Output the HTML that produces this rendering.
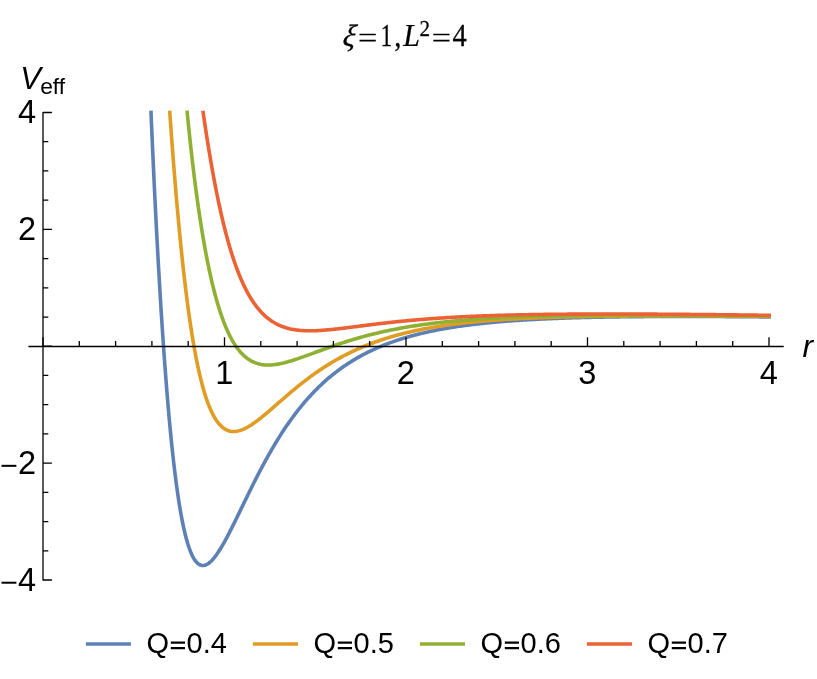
<!DOCTYPE html>
<html><head><meta charset="utf-8"><title>Veff plot</title>
<style>
html,body{margin:0;padding:0;background:#fff;}
body{width:817px;height:679px;overflow:hidden;}
svg{display:block;font-family:"Liberation Sans",sans-serif;}
</style></head><body>
<svg width="817" height="679" viewBox="0 0 817 679">
<rect width="817" height="679" fill="#fff"/>
<g fill="none" stroke-width="3.6" stroke-linejoin="round" stroke-linecap="square">
<path d="M151.01 112.49 L151.08 113.99 L151.14 115.49 L151.20 116.98 L151.27 118.48 L151.33 119.98 L151.39 121.48 L151.46 122.98 L151.52 124.47 L151.59 125.97 L151.65 127.47 L151.72 128.97 L151.78 130.47 L151.85 131.97 L151.91 133.46 L151.98 134.96 L152.04 136.46 L152.11 137.96 L152.18 139.46 L152.24 140.95 L152.31 142.45 L152.38 143.95 L152.44 145.45 L152.51 146.95 L152.58 148.44 L152.64 149.94 L152.71 151.44 L152.78 152.94 L152.85 154.43 L152.92 155.93 L152.98 157.43 L153.05 158.93 L153.12 160.43 L153.19 161.92 L153.26 163.42 L153.33 164.92 L153.40 166.42 L153.47 167.92 L153.54 169.41 L153.61 170.91 L153.68 172.41 L153.75 173.91 L153.82 175.40 L153.89 176.90 L153.96 178.40 L154.03 179.90 L154.10 181.40 L154.17 182.89 L154.24 184.39 L154.32 185.89 L154.39 187.39 L154.46 188.88 L154.53 190.38 L154.61 191.88 L154.68 193.38 L154.75 194.88 L154.83 196.37 L154.90 197.87 L154.97 199.37 L155.05 200.87 L155.12 202.36 L155.20 203.86 L155.27 205.36 L155.34 206.86 L155.42 208.35 L155.49 209.85 L155.57 211.35 L155.65 212.85 L155.72 214.34 L155.80 215.84 L155.87 217.34 L155.95 218.84 L156.03 220.33 L156.10 221.83 L156.18 223.33 L156.26 224.83 L156.34 226.32 L156.41 227.82 L156.49 229.32 L156.57 230.82 L156.65 232.31 L156.73 233.81 L156.81 235.31 L156.89 236.81 L156.97 238.30 L157.05 239.80 L157.13 241.30 L157.21 242.80 L157.29 244.29 L157.37 245.79 L157.45 247.29 L157.53 248.78 L157.61 250.28 L157.70 251.78 L157.78 253.28 L157.86 254.77 L157.94 256.27 L158.03 257.77 L158.11 259.26 L158.19 260.76 L158.28 262.26 L158.36 263.76 L158.44 265.25 L158.53 266.75 L158.61 268.25 L158.70 269.74 L158.79 271.24 L158.87 272.74 L158.96 274.24 L159.04 275.73 L159.13 277.23 L159.22 278.73 L159.30 280.22 L159.39 281.72 L159.48 283.22 L159.57 284.71 L159.66 286.21 L159.75 287.71 L159.84 289.20 L159.92 290.70 L160.01 292.20 L160.10 293.69 L160.20 295.19 L160.29 296.69 L160.38 298.18 L160.47 299.68 L160.56 301.18 L160.65 302.67 L160.75 304.17 L160.84 305.67 L160.93 307.16 L161.03 308.66 L161.12 310.16 L161.21 311.65 L161.31 313.15 L161.40 314.65 L161.50 316.14 L161.60 317.64 L161.69 319.14 L161.79 320.63 L161.89 322.13 L161.98 323.62 L162.08 325.12 L162.18 326.62 L162.28 328.11 L162.38 329.61 L162.48 331.11 L162.58 332.60 L162.68 334.10 L162.78 335.59 L162.88 337.09 L162.98 338.59 L163.08 340.08 L163.18 341.58 L163.29 343.07 L163.39 344.57 L163.49 346.07 L163.60 347.56 L163.70 349.06 L163.81 350.55 L163.92 352.05 L164.02 353.54 L164.13 355.04 L164.24 356.54 L164.34 358.03 L164.45 359.53 L164.56 361.02 L164.67 362.52 L164.78 364.01 L164.89 365.51 L165.00 367.00 L165.11 368.50 L165.23 369.99 L165.34 371.49 L165.45 372.99 L165.56 374.48 L165.68 375.98 L165.79 377.47 L165.91 378.97 L166.03 380.46 L166.14 381.96 L166.26 383.45 L166.38 384.94 L166.50 386.44 L166.62 387.93 L166.74 389.43 L166.86 390.92 L166.98 392.42 L167.10 393.91 L167.22 395.41 L167.35 396.90 L167.47 398.40 L167.60 399.89 L167.72 401.38 L167.85 402.88 L167.98 404.37 L168.10 405.87 L168.23 407.36 L168.36 408.85 L168.49 410.35 L168.62 411.84 L168.76 413.33 L168.89 414.83 L169.02 416.32 L169.16 417.82 L169.29 419.31 L169.43 420.80 L169.57 422.30 L169.71 423.79 L169.85 425.28 L169.99 426.77 L170.13 428.27 L170.27 429.76 L170.41 431.25 L170.56 432.74 L170.70 434.24 L170.85 435.73 L171.00 437.22 L171.15 438.71 L171.30 440.21 L171.45 441.70 L171.60 443.19 L171.75 444.68 L171.91 446.17 L172.06 447.66 L172.22 449.15 L172.38 450.65 L172.54 452.14 L172.70 453.63 L172.86 455.12 L173.03 456.61 L173.19 458.10 L173.36 459.59 L173.53 461.08 L173.70 462.57 L173.87 464.06 L174.05 465.55 L174.22 467.04 L174.40 468.53 L174.58 470.01 L174.76 471.50 L174.94 472.99 L175.12 474.48 L175.31 475.97 L175.50 477.45 L175.69 478.94 L175.88 480.43 L176.08 481.92 L176.27 483.40 L176.47 484.89 L176.67 486.37 L176.88 487.86 L177.08 489.35 L177.29 490.83 L177.50 492.31 L177.72 493.80 L177.93 495.28 L178.15 496.77 L178.38 498.25 L178.60 499.73 L178.83 501.21 L179.07 502.69 L179.30 504.17 L179.54 505.65 L179.79 507.13 L180.03 508.61 L180.28 510.09 L180.54 511.57 L180.80 513.05 L181.06 514.52 L181.33 516.00 L181.61 517.47 L181.89 518.94 L182.17 520.42 L182.46 521.89 L182.76 523.36 L183.06 524.83 L183.37 526.29 L183.69 527.76 L184.01 529.22 L184.35 530.68 L184.69 532.14 L185.04 533.60 L185.39 535.06 L185.76 536.51 L186.14 537.96 L186.53 539.41 L186.94 540.85 L187.35 542.29 L187.79 543.73 L188.23 545.16 L188.70 546.59 L189.18 548.01 L189.69 549.42 L190.22 550.82 L190.78 552.21 L191.36 553.59 L191.99 554.96 L192.64 556.30 L193.35 557.63 L194.11 558.92 L194.93 560.17 L195.82 561.38 L196.81 562.51 L197.90 563.53 L199.12 564.41 L200.46 565.08 L201.90 565.46 L203.40 565.52 L204.87 565.26 L206.28 564.74 L207.60 564.03 L208.84 563.19 L210.00 562.25 L211.11 561.23 L212.16 560.16 L213.16 559.04 L214.12 557.90 L215.05 556.72 L215.95 555.52 L216.83 554.30 L217.68 553.07 L218.51 551.82 L219.32 550.56 L220.12 549.29 L220.90 548.01 L221.67 546.73 L222.43 545.43 L223.18 544.13 L223.92 542.83 L224.65 541.52 L225.37 540.21 L226.09 538.89 L226.80 537.57 L227.50 536.24 L228.20 534.91 L228.89 533.58 L229.57 532.25 L230.26 530.91 L230.94 529.58 L231.61 528.24 L232.28 526.90 L232.95 525.56 L233.62 524.21 L234.29 522.87 L234.95 521.53 L235.61 520.18 L236.27 518.83 L236.93 517.49 L237.58 516.14 L238.24 514.79 L238.89 513.44 L239.55 512.09 L240.20 510.74 L240.86 509.39 L241.51 508.04 L242.16 506.69 L242.82 505.34 L243.47 503.99 L244.12 502.64 L244.78 501.30 L245.43 499.95 L246.09 498.60 L246.75 497.25 L247.40 495.90 L248.06 494.56 L248.72 493.21 L249.39 491.86 L250.05 490.52 L250.71 489.17 L251.38 487.83 L252.05 486.49 L252.72 485.15 L253.39 483.81 L254.06 482.47 L254.74 481.13 L255.41 479.79 L256.09 478.45 L256.78 477.12 L257.46 475.78 L258.15 474.45 L258.84 473.12 L259.53 471.79 L260.23 470.46 L260.92 469.14 L261.62 467.81 L262.33 466.49 L263.04 465.16 L263.75 463.84 L264.46 462.52 L265.18 461.21 L265.90 459.89 L266.62 458.58 L267.35 457.27 L268.08 455.96 L268.82 454.65 L269.56 453.35 L270.30 452.05 L271.05 450.75 L271.80 449.45 L272.56 448.15 L273.32 446.86 L274.08 445.57 L274.85 444.28 L275.62 443.00 L276.40 441.72 L277.18 440.44 L277.97 439.16 L278.76 437.89 L279.56 436.62 L280.36 435.35 L281.17 434.09 L281.98 432.83 L282.80 431.57 L283.62 430.32 L284.45 429.07 L285.29 427.82 L286.12 426.58 L286.97 425.34 L287.82 424.11 L288.68 422.88 L289.54 421.65 L290.41 420.43 L291.28 419.21 L292.17 418.00 L293.05 416.79 L293.95 415.58 L294.85 414.39 L295.75 413.19 L296.67 412.00 L297.58 410.82 L298.51 409.64 L299.44 408.46 L300.38 407.29 L301.33 406.13 L302.28 404.97 L303.24 403.82 L304.21 402.68 L305.18 401.54 L306.16 400.40 L307.15 399.27 L308.15 398.15 L309.15 397.04 L310.16 395.93 L311.18 394.83 L312.20 393.73 L313.24 392.65 L314.27 391.57 L315.32 390.49 L316.38 389.43 L317.44 388.37 L318.51 387.32 L319.58 386.27 L320.67 385.24 L321.76 384.21 L322.86 383.19 L323.97 382.18 L325.08 381.18 L326.21 380.18 L327.33 379.20 L328.47 378.22 L329.62 377.25 L330.77 376.29 L331.93 375.34 L333.09 374.40 L334.27 373.47 L335.45 372.54 L336.64 371.63 L337.83 370.72 L339.04 369.83 L340.25 368.94 L341.46 368.07 L342.69 367.20 L343.92 366.34 L345.16 365.50 L346.40 364.66 L347.65 363.83 L348.91 363.01 L350.17 362.21 L351.44 361.41 L352.72 360.62 L354.00 359.85 L355.29 359.08 L356.58 358.32 L357.88 357.57 L359.19 356.84 L360.50 356.11 L361.82 355.39 L363.14 354.69 L364.47 353.99 L365.80 353.30 L367.14 352.63 L368.48 351.96 L369.83 351.30 L371.18 350.65 L372.54 350.02 L373.90 349.39 L375.27 348.77 L376.64 348.16 L378.01 347.56 L379.39 346.97 L380.77 346.39 L382.16 345.82 L383.55 345.26 L384.94 344.71 L386.34 344.17 L387.74 343.63 L389.15 343.11 L390.55 342.59 L391.96 342.08 L393.38 341.58 L394.80 341.09 L396.22 340.61 L397.64 340.13 L399.06 339.67 L400.49 339.21 L401.92 338.76 L403.35 338.32 L404.79 337.88 L406.23 337.46 L407.67 337.04 L409.11 336.63 L410.55 336.22 L412.00 335.83 L413.45 335.44 L414.90 335.05 L416.35 334.68 L417.80 334.31 L419.26 333.95 L420.71 333.59 L422.17 333.24 L423.63 332.90 L425.09 332.56 L426.55 332.23 L428.02 331.91 L429.48 331.59 L430.95 331.28 L432.42 330.97 L433.89 330.67 L435.36 330.37 L436.83 330.08 L438.30 329.80 L439.77 329.52 L441.25 329.25 L442.72 328.98 L444.20 328.72 L445.68 328.46 L447.15 328.20 L448.63 327.95 L450.11 327.71 L451.59 327.47 L453.07 327.24 L454.56 327.00 L456.04 326.78 L457.52 326.56 L459.00 326.34 L460.49 326.12 L461.97 325.91 L463.46 325.71 L464.94 325.51 L466.43 325.31 L467.92 325.12 L469.40 324.92 L470.89 324.74 L472.38 324.55 L473.87 324.38 L475.36 324.20 L476.85 324.03 L478.34 323.86 L479.83 323.69 L481.32 323.53 L482.81 323.37 L484.30 323.21 L485.79 323.06 L487.28 322.90 L488.78 322.76 L490.27 322.61 L491.76 322.47 L493.25 322.33 L494.75 322.19 L496.24 322.06 L497.73 321.93 L499.23 321.80 L500.72 321.67 L502.22 321.55 L503.71 321.42 L505.21 321.31 L506.70 321.19 L508.20 321.07 L509.69 320.96 L511.19 320.85 L512.68 320.74 L514.18 320.64 L515.67 320.53 L517.17 320.43 L518.67 320.33 L520.16 320.23 L521.66 320.14 L523.15 320.04 L524.65 319.95 L526.15 319.86 L527.64 319.77 L529.14 319.69 L530.64 319.60 L532.14 319.52 L533.63 319.44 L535.13 319.36 L536.63 319.28 L538.13 319.20 L539.62 319.13 L541.12 319.05 L542.62 318.98 L544.12 318.91 L545.61 318.84 L547.11 318.77 L548.61 318.71 L550.11 318.64 L551.61 318.58 L553.10 318.52 L554.60 318.46 L556.10 318.40 L557.60 318.34 L559.10 318.28 L560.60 318.23 L562.09 318.17 L563.59 318.12 L565.09 318.07 L566.59 318.02 L568.09 317.97 L569.59 317.92 L571.09 317.87 L572.58 317.82 L574.08 317.78 L575.58 317.73 L577.08 317.69 L578.58 317.65 L580.08 317.61 L581.58 317.56 L583.08 317.53 L584.58 317.49 L586.07 317.45 L587.57 317.41 L589.07 317.38 L590.57 317.34 L592.07 317.31 L593.57 317.27 L595.07 317.24 L596.57 317.21 L598.07 317.18 L599.57 317.15 L601.07 317.12 L602.57 317.09 L604.06 317.07 L605.56 317.04 L607.06 317.01 L608.56 316.99 L610.06 316.96 L611.56 316.94 L613.06 316.92 L614.56 316.89 L616.06 316.87 L617.56 316.85 L619.06 316.83 L620.56 316.81 L622.06 316.79 L623.56 316.77 L625.05 316.75 L626.55 316.74 L628.05 316.72 L629.55 316.70 L631.05 316.69 L632.55 316.67 L634.05 316.66 L635.55 316.64 L637.05 316.63 L638.55 316.62 L640.05 316.61 L641.55 316.59 L643.05 316.58 L644.55 316.57 L646.05 316.56 L647.55 316.55 L649.04 316.54 L650.54 316.53 L652.04 316.52 L653.54 316.52 L655.04 316.51 L656.54 316.50 L658.04 316.50 L659.54 316.49 L661.04 316.48 L662.54 316.48 L664.04 316.47 L665.54 316.47 L667.04 316.47 L668.54 316.46 L670.04 316.46 L671.54 316.46 L673.04 316.45 L674.54 316.45 L676.03 316.45 L677.53 316.45 L679.03 316.45 L680.53 316.45 L682.03 316.45 L683.53 316.45 L685.03 316.45 L686.53 316.45 L688.03 316.45 L689.53 316.45 L691.03 316.45 L692.53 316.46 L694.03 316.46 L695.53 316.46 L697.03 316.46 L698.53 316.47 L700.03 316.47 L701.53 316.47 L703.03 316.48 L704.52 316.48 L706.02 316.49 L707.52 316.49 L709.02 316.50 L710.52 316.51 L712.02 316.51 L713.52 316.52 L715.02 316.52 L716.52 316.53 L718.02 316.54 L719.52 316.55 L721.02 316.55 L722.52 316.56 L724.02 316.57 L725.52 316.58 L727.02 316.59 L728.52 316.59 L730.02 316.60 L731.51 316.61 L733.01 316.62 L734.51 316.63 L736.01 316.64 L737.51 316.65 L739.01 316.66 L740.51 316.67 L742.01 316.68 L743.51 316.69 L745.01 316.71 L746.51 316.72 L748.01 316.73 L749.51 316.74 L751.01 316.75 L752.51 316.76 L754.01 316.78 L755.51 316.79 L757.00 316.80 L758.50 316.81 L760.00 316.83 L761.50 316.84 L763.00 316.85 L764.50 316.87 L766.00 316.88 L767.50 316.90 L769.00 316.91" stroke="#5E81B5"/>
<path d="M169.80 112.49 L169.90 113.99 L170.01 115.48 L170.11 116.98 L170.22 118.47 L170.32 119.97 L170.43 121.47 L170.54 122.96 L170.65 124.46 L170.75 125.95 L170.86 127.45 L170.97 128.95 L171.08 130.44 L171.19 131.94 L171.30 133.43 L171.41 134.93 L171.52 136.42 L171.63 137.92 L171.74 139.42 L171.85 140.91 L171.96 142.41 L172.07 143.90 L172.18 145.40 L172.30 146.89 L172.41 148.39 L172.52 149.88 L172.64 151.38 L172.75 152.87 L172.87 154.37 L172.98 155.86 L173.10 157.36 L173.21 158.86 L173.33 160.35 L173.45 161.85 L173.56 163.34 L173.68 164.84 L173.80 166.33 L173.92 167.83 L174.04 169.32 L174.16 170.82 L174.28 172.31 L174.40 173.81 L174.52 175.30 L174.64 176.80 L174.76 178.29 L174.88 179.78 L175.01 181.28 L175.13 182.77 L175.25 184.27 L175.38 185.76 L175.50 187.26 L175.63 188.75 L175.75 190.25 L175.88 191.74 L176.01 193.24 L176.13 194.73 L176.26 196.22 L176.39 197.72 L176.52 199.21 L176.65 200.71 L176.78 202.20 L176.91 203.69 L177.04 205.19 L177.18 206.68 L177.31 208.18 L177.44 209.67 L177.58 211.16 L177.71 212.66 L177.85 214.15 L177.98 215.64 L178.12 217.14 L178.26 218.63 L178.39 220.12 L178.53 221.62 L178.67 223.11 L178.81 224.60 L178.95 226.10 L179.09 227.59 L179.23 229.08 L179.38 230.58 L179.52 232.07 L179.67 233.56 L179.81 235.05 L179.96 236.55 L180.10 238.04 L180.25 239.53 L180.40 241.02 L180.55 242.52 L180.70 244.01 L180.85 245.50 L181.00 246.99 L181.15 248.49 L181.30 249.98 L181.46 251.47 L181.61 252.96 L181.77 254.45 L181.93 255.94 L182.08 257.44 L182.24 258.93 L182.40 260.42 L182.56 261.91 L182.72 263.40 L182.89 264.89 L183.05 266.38 L183.21 267.87 L183.38 269.36 L183.55 270.85 L183.72 272.34 L183.88 273.83 L184.05 275.32 L184.23 276.81 L184.40 278.30 L184.57 279.79 L184.75 281.28 L184.92 282.77 L185.10 284.26 L185.28 285.75 L185.46 287.24 L185.64 288.73 L185.82 290.22 L186.00 291.70 L186.19 293.19 L186.38 294.68 L186.56 296.17 L186.75 297.66 L186.94 299.14 L187.14 300.63 L187.33 302.12 L187.52 303.61 L187.72 305.09 L187.92 306.58 L188.12 308.06 L188.32 309.55 L188.53 311.04 L188.73 312.52 L188.94 314.01 L189.15 315.49 L189.36 316.98 L189.57 318.46 L189.79 319.95 L190.00 321.43 L190.22 322.91 L190.44 324.40 L190.67 325.88 L190.89 327.36 L191.12 328.85 L191.35 330.33 L191.58 331.81 L191.81 333.29 L192.05 334.77 L192.29 336.25 L192.53 337.73 L192.78 339.21 L193.02 340.69 L193.27 342.17 L193.53 343.65 L193.78 345.13 L194.04 346.60 L194.30 348.08 L194.57 349.56 L194.84 351.03 L195.11 352.51 L195.38 353.98 L195.66 355.45 L195.94 356.93 L196.23 358.40 L196.52 359.87 L196.82 361.34 L197.11 362.81 L197.42 364.28 L197.72 365.75 L198.03 367.21 L198.35 368.68 L198.67 370.15 L199.00 371.61 L199.33 373.07 L199.67 374.53 L200.01 375.99 L200.36 377.45 L200.72 378.91 L201.08 380.36 L201.45 381.82 L201.82 383.27 L202.20 384.72 L202.59 386.17 L202.99 387.61 L203.40 389.06 L203.81 390.50 L204.24 391.94 L204.67 393.37 L205.12 394.80 L205.57 396.23 L206.04 397.66 L206.52 399.08 L207.01 400.50 L207.51 401.91 L208.03 403.32 L208.56 404.72 L209.11 406.11 L209.68 407.50 L210.27 408.88 L210.87 410.25 L211.50 411.62 L212.15 412.97 L212.82 414.31 L213.53 415.63 L214.26 416.94 L215.02 418.23 L215.82 419.50 L216.65 420.75 L217.52 421.97 L218.44 423.15 L219.41 424.30 L220.43 425.40 L221.51 426.44 L222.64 427.42 L223.84 428.33 L225.10 429.14 L226.42 429.85 L227.79 430.45 L229.22 430.92 L230.68 431.25 L232.16 431.45 L233.66 431.52 L235.16 431.46 L236.65 431.28 L238.12 431.00 L239.57 430.63 L241.00 430.17 L242.41 429.65 L243.79 429.07 L245.15 428.43 L246.48 427.75 L247.80 427.03 L249.10 426.27 L250.37 425.49 L251.63 424.68 L252.88 423.85 L254.11 422.99 L255.33 422.12 L256.54 421.23 L257.74 420.33 L258.93 419.42 L260.11 418.49 L261.29 417.56 L262.45 416.62 L263.61 415.67 L264.77 414.71 L265.92 413.75 L267.06 412.78 L268.21 411.81 L269.35 410.83 L270.48 409.85 L271.62 408.87 L272.75 407.89 L273.88 406.91 L275.01 405.92 L276.14 404.93 L277.27 403.95 L278.40 402.96 L279.53 401.97 L280.66 400.99 L281.79 400.00 L282.92 399.02 L284.06 398.04 L285.19 397.06 L286.33 396.08 L287.47 395.10 L288.61 394.13 L289.75 393.16 L290.90 392.19 L292.05 391.23 L293.20 390.27 L294.35 389.31 L295.51 388.36 L296.67 387.41 L297.83 386.46 L299.00 385.52 L300.17 384.58 L301.35 383.65 L302.53 382.72 L303.71 381.80 L304.90 380.89 L306.09 379.97 L307.28 379.07 L308.48 378.17 L309.69 377.27 L310.89 376.38 L312.11 375.50 L313.32 374.63 L314.54 373.75 L315.77 372.89 L317.00 372.03 L318.24 371.18 L319.48 370.34 L320.72 369.50 L321.97 368.67 L323.22 367.85 L324.48 367.03 L325.74 366.23 L327.01 365.43 L328.29 364.63 L329.56 363.85 L330.84 363.07 L332.13 362.30 L333.42 361.53 L334.72 360.78 L336.02 360.03 L337.32 359.29 L338.63 358.56 L339.95 357.84 L341.27 357.12 L342.59 356.42 L343.92 355.72 L345.25 355.03 L346.58 354.35 L347.92 353.67 L349.27 353.01 L350.61 352.35 L351.97 351.70 L353.32 351.06 L354.68 350.43 L356.05 349.81 L357.41 349.19 L358.79 348.58 L360.16 347.98 L361.54 347.39 L362.92 346.81 L364.31 346.24 L365.69 345.67 L367.09 345.11 L368.48 344.56 L369.88 344.02 L371.28 343.49 L372.69 342.96 L374.09 342.44 L375.50 341.93 L376.92 341.43 L378.33 340.94 L379.75 340.45 L381.17 339.97 L382.60 339.50 L384.02 339.04 L385.45 338.58 L386.88 338.13 L388.32 337.69 L389.75 337.26 L391.19 336.83 L392.63 336.41 L394.07 336.00 L395.52 335.59 L396.96 335.19 L398.41 334.80 L399.86 334.42 L401.31 334.04 L402.76 333.67 L404.22 333.30 L405.67 332.94 L407.13 332.59 L408.59 332.24 L410.05 331.90 L411.51 331.57 L412.97 331.24 L414.44 330.92 L415.91 330.60 L417.37 330.29 L418.84 329.98 L420.31 329.68 L421.78 329.39 L423.25 329.10 L424.73 328.82 L426.20 328.54 L427.67 328.26 L429.15 328.00 L430.63 327.73 L432.10 327.48 L433.58 327.22 L435.06 326.97 L436.54 326.73 L438.02 326.49 L439.50 326.26 L440.98 326.03 L442.47 325.80 L443.95 325.58 L445.43 325.36 L446.92 325.15 L448.40 324.94 L449.89 324.74 L451.38 324.54 L452.86 324.34 L454.35 324.15 L455.84 323.96 L457.32 323.77 L458.81 323.59 L460.30 323.41 L461.79 323.24 L463.28 323.07 L464.77 322.90 L466.26 322.73 L467.75 322.57 L469.25 322.41 L470.74 322.26 L472.23 322.11 L473.72 321.96 L475.21 321.81 L476.71 321.67 L478.20 321.53 L479.69 321.39 L481.19 321.26 L482.68 321.13 L484.18 321.00 L485.67 320.87 L487.16 320.75 L488.66 320.63 L490.15 320.51 L491.65 320.40 L493.15 320.28 L494.64 320.17 L496.14 320.06 L497.63 319.96 L499.13 319.85 L500.62 319.75 L502.12 319.65 L503.62 319.55 L505.11 319.46 L506.61 319.36 L508.11 319.27 L509.60 319.18 L511.10 319.09 L512.60 319.01 L514.10 318.92 L515.59 318.84 L517.09 318.76 L518.59 318.68 L520.09 318.60 L521.58 318.53 L523.08 318.45 L524.58 318.38 L526.08 318.31 L527.58 318.24 L529.08 318.18 L530.57 318.11 L532.07 318.05 L533.57 317.98 L535.07 317.92 L536.57 317.86 L538.07 317.80 L539.56 317.75 L541.06 317.69 L542.56 317.64 L544.06 317.58 L545.56 317.53 L547.06 317.48 L548.56 317.43 L550.06 317.38 L551.56 317.34 L553.05 317.29 L554.55 317.24 L556.05 317.20 L557.55 317.16 L559.05 317.12 L560.55 317.08 L562.05 317.04 L563.55 317.00 L565.05 316.96 L566.55 316.92 L568.05 316.89 L569.55 316.85 L571.04 316.82 L572.54 316.79 L574.04 316.75 L575.54 316.72 L577.04 316.69 L578.54 316.66 L580.04 316.63 L581.54 316.61 L583.04 316.58 L584.54 316.55 L586.04 316.53 L587.54 316.50 L589.04 316.48 L590.54 316.45 L592.04 316.43 L593.54 316.41 L595.04 316.39 L596.54 316.37 L598.04 316.35 L599.53 316.33 L601.03 316.31 L602.53 316.29 L604.03 316.27 L605.53 316.26 L607.03 316.24 L608.53 316.23 L610.03 316.21 L611.53 316.20 L613.03 316.18 L614.53 316.17 L616.03 316.15 L617.53 316.14 L619.03 316.13 L620.53 316.12 L622.03 316.11 L623.53 316.10 L625.03 316.09 L626.53 316.08 L628.03 316.07 L629.53 316.06 L631.03 316.05 L632.53 316.04 L634.03 316.04 L635.53 316.03 L637.03 316.02 L638.53 316.02 L640.03 316.01 L641.53 316.00 L643.03 316.00 L644.52 315.99 L646.02 315.99 L647.52 315.99 L649.02 315.98 L650.52 315.98 L652.02 315.98 L653.52 315.97 L655.02 315.97 L656.52 315.97 L658.02 315.97 L659.52 315.96 L661.02 315.96 L662.52 315.96 L664.02 315.96 L665.52 315.96 L667.02 315.96 L668.52 315.96 L670.02 315.96 L671.52 315.96 L673.02 315.96 L674.52 315.96 L676.02 315.97 L677.52 315.97 L679.02 315.97 L680.52 315.97 L682.02 315.97 L683.52 315.98 L685.02 315.98 L686.52 315.98 L688.02 315.98 L689.52 315.99 L691.02 315.99 L692.52 316.00 L694.02 316.00 L695.51 316.00 L697.01 316.01 L698.51 316.01 L700.01 316.02 L701.51 316.02 L703.01 316.03 L704.51 316.03 L706.01 316.04 L707.51 316.04 L709.01 316.05 L710.51 316.05 L712.01 316.06 L713.51 316.07 L715.01 316.07 L716.51 316.08 L718.01 316.09 L719.51 316.09 L721.01 316.10 L722.51 316.11 L724.01 316.11 L725.51 316.12 L727.01 316.13 L728.51 316.14 L730.01 316.14 L731.51 316.15 L733.01 316.16 L734.51 316.17 L736.01 316.17 L737.51 316.18 L739.01 316.19 L740.51 316.20 L742.01 316.21 L743.51 316.22 L745.01 316.22 L746.50 316.23 L748.00 316.24 L749.50 316.25 L751.00 316.26 L752.50 316.27 L754.00 316.28 L755.50 316.29 L757.00 316.30 L758.50 316.31 L760.00 316.31 L761.50 316.32 L763.00 316.33 L764.50 316.34 L766.00 316.35 L767.50 316.36 L769.00 316.37" stroke="#E19C24"/>
<path d="M187.22 112.49 L187.36 113.98 L187.51 115.47 L187.66 116.96 L187.80 118.45 L187.95 119.94 L188.10 121.43 L188.25 122.92 L188.40 124.41 L188.55 125.90 L188.70 127.39 L188.86 128.88 L189.01 130.37 L189.16 131.86 L189.32 133.35 L189.48 134.84 L189.63 136.33 L189.79 137.82 L189.95 139.31 L190.11 140.80 L190.27 142.29 L190.43 143.77 L190.60 145.26 L190.76 146.75 L190.92 148.24 L191.09 149.73 L191.26 151.22 L191.42 152.70 L191.59 154.19 L191.76 155.68 L191.93 157.17 L192.10 158.66 L192.28 160.14 L192.45 161.63 L192.62 163.12 L192.80 164.61 L192.98 166.09 L193.15 167.58 L193.33 169.07 L193.51 170.55 L193.69 172.04 L193.88 173.53 L194.06 175.01 L194.24 176.50 L194.43 177.99 L194.62 179.47 L194.80 180.96 L194.99 182.44 L195.18 183.93 L195.38 185.41 L195.57 186.90 L195.76 188.38 L195.96 189.87 L196.16 191.35 L196.35 192.84 L196.55 194.32 L196.76 195.80 L196.96 197.29 L197.16 198.77 L197.37 200.26 L197.57 201.74 L197.78 203.22 L197.99 204.70 L198.20 206.19 L198.42 207.67 L198.63 209.15 L198.85 210.63 L199.06 212.12 L199.28 213.60 L199.51 215.08 L199.73 216.56 L199.95 218.04 L200.18 219.52 L200.41 221.00 L200.64 222.48 L200.87 223.96 L201.10 225.44 L201.34 226.92 L201.57 228.40 L201.81 229.87 L202.05 231.35 L202.30 232.83 L202.54 234.31 L202.79 235.78 L203.04 237.26 L203.29 238.74 L203.55 240.21 L203.80 241.69 L204.06 243.16 L204.32 244.64 L204.58 246.11 L204.85 247.59 L205.12 249.06 L205.39 250.53 L205.66 252.01 L205.94 253.48 L206.22 254.95 L206.50 256.42 L206.78 257.89 L207.07 259.36 L207.36 260.83 L207.65 262.30 L207.95 263.77 L208.25 265.23 L208.55 266.70 L208.86 268.16 L209.17 269.63 L209.48 271.09 L209.80 272.56 L210.12 274.02 L210.44 275.48 L210.77 276.94 L211.10 278.41 L211.44 279.86 L211.78 281.32 L212.12 282.78 L212.47 284.24 L212.82 285.69 L213.18 287.15 L213.54 288.60 L213.91 290.05 L214.28 291.50 L214.66 292.95 L215.04 294.40 L215.43 295.85 L215.82 297.29 L216.22 298.73 L216.63 300.18 L217.04 301.62 L217.46 303.05 L217.89 304.49 L218.32 305.92 L218.76 307.35 L219.20 308.78 L219.66 310.21 L220.12 311.64 L220.59 313.06 L221.07 314.48 L221.56 315.89 L222.05 317.30 L222.56 318.71 L223.08 320.12 L223.60 321.52 L224.14 322.92 L224.69 324.31 L225.25 325.70 L225.82 327.08 L226.41 328.46 L227.01 329.84 L227.62 331.20 L228.25 332.56 L228.89 333.91 L229.55 335.26 L230.23 336.59 L230.93 337.92 L231.64 339.24 L232.37 340.54 L233.13 341.84 L233.90 343.12 L234.70 344.38 L235.52 345.64 L236.37 346.87 L237.25 348.09 L238.15 349.28 L239.08 350.45 L240.04 351.60 L241.03 352.72 L242.06 353.81 L243.12 354.87 L244.21 355.89 L245.34 356.88 L246.51 357.82 L247.71 358.71 L248.95 359.55 L250.22 360.34 L251.53 361.08 L252.86 361.75 L254.23 362.36 L255.62 362.91 L257.04 363.39 L258.48 363.81 L259.94 364.16 L261.41 364.45 L262.89 364.67 L264.37 364.84 L265.87 364.95 L267.36 365.00 L268.86 365.00 L270.36 364.96 L271.85 364.87 L273.35 364.74 L274.83 364.57 L276.32 364.36 L277.80 364.12 L279.27 363.86 L280.74 363.56 L282.20 363.25 L283.66 362.90 L285.11 362.54 L286.56 362.16 L288.00 361.77 L289.44 361.35 L290.88 360.93 L292.31 360.49 L293.74 360.04 L295.17 359.58 L296.59 359.11 L298.01 358.63 L299.42 358.15 L300.84 357.66 L302.25 357.16 L303.66 356.66 L305.07 356.16 L306.48 355.65 L307.89 355.14 L309.30 354.63 L310.70 354.11 L312.11 353.60 L313.52 353.08 L314.92 352.56 L316.33 352.05 L317.73 351.53 L319.14 351.02 L320.55 350.50 L321.95 349.99 L323.36 349.48 L324.77 348.97 L326.18 348.46 L327.59 347.96 L329.00 347.46 L330.41 346.96 L331.82 346.46 L333.24 345.97 L334.65 345.48 L336.07 345.00 L337.49 344.51 L338.91 344.04 L340.33 343.56 L341.75 343.10 L343.18 342.63 L344.60 342.17 L346.03 341.71 L347.46 341.26 L348.89 340.82 L350.32 340.38 L351.75 339.94 L353.18 339.51 L354.62 339.08 L356.05 338.66 L357.49 338.24 L358.93 337.83 L360.37 337.42 L361.82 337.02 L363.26 336.62 L364.71 336.23 L366.15 335.85 L367.60 335.46 L369.05 335.09 L370.50 334.72 L371.95 334.35 L373.41 333.99 L374.86 333.64 L376.32 333.28 L377.78 332.94 L379.23 332.60 L380.69 332.26 L382.15 331.93 L383.62 331.61 L385.08 331.29 L386.54 330.97 L388.01 330.66 L389.47 330.36 L390.94 330.06 L392.41 329.76 L393.88 329.47 L395.35 329.18 L396.82 328.90 L398.29 328.62 L399.76 328.35 L401.24 328.08 L402.71 327.82 L404.19 327.56 L405.66 327.30 L407.14 327.05 L408.61 326.81 L410.09 326.56 L411.57 326.33 L413.05 326.09 L414.53 325.86 L416.01 325.64 L417.49 325.42 L418.97 325.20 L420.46 324.98 L421.94 324.77 L423.42 324.57 L424.91 324.36 L426.39 324.16 L427.87 323.97 L429.36 323.78 L430.84 323.59 L432.33 323.40 L433.82 323.22 L435.30 323.04 L436.79 322.87 L438.28 322.70 L439.77 322.53 L441.26 322.36 L442.74 322.20 L444.23 322.04 L445.72 321.88 L447.21 321.73 L448.70 321.58 L450.19 321.43 L451.68 321.29 L453.17 321.14 L454.67 321.00 L456.16 320.87 L457.65 320.73 L459.14 320.60 L460.63 320.47 L462.12 320.35 L463.62 320.22 L465.11 320.10 L466.60 319.98 L468.09 319.86 L469.59 319.75 L471.08 319.64 L472.57 319.53 L474.07 319.42 L475.56 319.31 L477.06 319.21 L478.55 319.11 L480.04 319.01 L481.54 318.91 L483.03 318.82 L484.53 318.72 L486.02 318.63 L487.52 318.54 L489.01 318.45 L490.51 318.37 L492.00 318.28 L493.50 318.20 L494.99 318.12 L496.49 318.04 L497.98 317.96 L499.48 317.88 L500.98 317.81 L502.47 317.74 L503.97 317.67 L505.46 317.60 L506.96 317.53 L508.46 317.46 L509.95 317.40 L511.45 317.33 L512.94 317.27 L514.44 317.21 L515.94 317.15 L517.43 317.09 L518.93 317.03 L520.43 316.98 L521.92 316.92 L523.42 316.87 L524.92 316.82 L526.41 316.76 L527.91 316.71 L529.41 316.67 L530.90 316.62 L532.40 316.57 L533.90 316.53 L535.39 316.48 L536.89 316.44 L538.39 316.40 L539.89 316.35 L541.38 316.31 L542.88 316.28 L544.38 316.24 L545.87 316.20 L547.37 316.16 L548.87 316.13 L550.36 316.09 L551.86 316.06 L553.36 316.03 L554.86 315.99 L556.35 315.96 L557.85 315.93 L559.35 315.90 L560.85 315.87 L562.34 315.85 L563.84 315.82 L565.34 315.79 L566.83 315.77 L568.33 315.74 L569.83 315.72 L571.33 315.69 L572.82 315.67 L574.32 315.65 L575.82 315.63 L577.32 315.61 L578.81 315.59 L580.31 315.57 L581.81 315.55 L583.31 315.53 L584.80 315.51 L586.30 315.50 L587.80 315.48 L589.30 315.46 L590.79 315.45 L592.29 315.44 L593.79 315.42 L595.29 315.41 L596.78 315.39 L598.28 315.38 L599.78 315.37 L601.28 315.36 L602.77 315.35 L604.27 315.34 L605.77 315.33 L607.27 315.32 L608.76 315.31 L610.26 315.30 L611.76 315.29 L613.26 315.29 L614.75 315.28 L616.25 315.27 L617.75 315.27 L619.25 315.26 L620.74 315.25 L622.24 315.25 L623.74 315.25 L625.24 315.24 L626.73 315.24 L628.23 315.23 L629.73 315.23 L631.23 315.23 L632.72 315.23 L634.22 315.22 L635.72 315.22 L637.22 315.22 L638.72 315.22 L640.21 315.22 L641.71 315.22 L643.21 315.22 L644.71 315.22 L646.20 315.22 L647.70 315.22 L649.20 315.23 L650.70 315.23 L652.19 315.23 L653.69 315.23 L655.19 315.23 L656.69 315.24 L658.18 315.24 L659.68 315.25 L661.18 315.25 L662.68 315.25 L664.17 315.26 L665.67 315.26 L667.17 315.27 L668.67 315.27 L670.16 315.28 L671.66 315.28 L673.16 315.29 L674.66 315.30 L676.15 315.30 L677.65 315.31 L679.15 315.32 L680.65 315.32 L682.14 315.33 L683.64 315.34 L685.14 315.35 L686.64 315.36 L688.13 315.37 L689.63 315.37 L691.13 315.38 L692.63 315.39 L694.12 315.40 L695.62 315.41 L697.12 315.42 L698.62 315.43 L700.11 315.44 L701.61 315.45 L703.11 315.46 L704.61 315.47 L706.11 315.48 L707.60 315.49 L709.10 315.51 L710.60 315.52 L712.10 315.53 L713.59 315.54 L715.09 315.55 L716.59 315.57 L718.09 315.58 L719.58 315.59 L721.08 315.60 L722.58 315.62 L724.08 315.63 L725.57 315.64 L727.07 315.66 L728.57 315.67 L730.07 315.68 L731.56 315.70 L733.06 315.71 L734.56 315.72 L736.06 315.74 L737.55 315.75 L739.05 315.77 L740.55 315.78 L742.05 315.80 L743.54 315.81 L745.04 315.83 L746.54 315.84 L748.04 315.86 L749.53 315.87 L751.03 315.89 L752.53 315.91 L754.03 315.92 L755.52 315.94 L757.02 315.95 L758.52 315.97 L760.02 315.99 L761.51 316.00 L763.01 316.02 L764.51 316.04 L766.01 316.05 L767.50 316.07 L769.00 316.09" stroke="#8FB032"/>
<path d="M203.16 112.49 L203.38 113.97 L203.59 115.46 L203.81 116.94 L204.03 118.42 L204.24 119.91 L204.46 121.39 L204.68 122.87 L204.90 124.35 L205.13 125.83 L205.35 127.32 L205.57 128.80 L205.80 130.28 L206.03 131.76 L206.25 133.24 L206.48 134.72 L206.71 136.20 L206.94 137.69 L207.18 139.17 L207.41 140.65 L207.65 142.13 L207.88 143.61 L208.12 145.09 L208.36 146.57 L208.60 148.04 L208.84 149.52 L209.08 151.00 L209.33 152.48 L209.58 153.96 L209.82 155.44 L210.07 156.92 L210.32 158.39 L210.57 159.87 L210.83 161.35 L211.08 162.82 L211.34 164.30 L211.60 165.78 L211.86 167.25 L212.12 168.73 L212.38 170.20 L212.65 171.68 L212.92 173.15 L213.18 174.63 L213.46 176.10 L213.73 177.58 L214.00 179.05 L214.28 180.52 L214.56 181.99 L214.84 183.47 L215.12 184.94 L215.40 186.41 L215.69 187.88 L215.98 189.35 L216.27 190.82 L216.56 192.29 L216.86 193.76 L217.15 195.23 L217.45 196.70 L217.76 198.17 L218.06 199.63 L218.37 201.10 L218.68 202.57 L218.99 204.03 L219.31 205.50 L219.62 206.96 L219.94 208.43 L220.27 209.89 L220.59 211.35 L220.92 212.81 L221.25 214.28 L221.59 215.74 L221.93 217.20 L222.27 218.66 L222.61 220.11 L222.96 221.57 L223.31 223.03 L223.67 224.48 L224.03 225.94 L224.39 227.39 L224.75 228.85 L225.12 230.30 L225.50 231.75 L225.88 233.20 L226.26 234.65 L226.64 236.10 L227.03 237.55 L227.43 238.99 L227.83 240.44 L228.23 241.88 L228.64 243.32 L229.05 244.76 L229.47 246.20 L229.89 247.64 L230.32 249.07 L230.76 250.51 L231.20 251.94 L231.64 253.37 L232.09 254.80 L232.55 256.23 L233.02 257.65 L233.49 259.08 L233.96 260.50 L234.45 261.92 L234.94 263.33 L235.43 264.75 L235.94 266.16 L236.45 267.56 L236.97 268.97 L237.50 270.37 L238.04 271.77 L238.59 273.17 L239.14 274.56 L239.71 275.95 L240.28 277.33 L240.87 278.71 L241.46 280.09 L242.07 281.46 L242.68 282.82 L243.31 284.18 L243.95 285.54 L244.60 286.89 L245.27 288.23 L245.94 289.57 L246.64 290.90 L247.34 292.22 L248.06 293.54 L248.79 294.84 L249.55 296.14 L250.31 297.43 L251.10 298.70 L251.90 299.97 L252.72 301.23 L253.55 302.47 L254.41 303.70 L255.29 304.91 L256.18 306.12 L257.10 307.30 L258.04 308.47 L259.00 309.62 L259.98 310.75 L260.99 311.86 L262.02 312.95 L263.08 314.01 L264.16 315.05 L265.26 316.06 L266.39 317.05 L267.54 318.01 L268.72 318.93 L269.92 319.83 L271.15 320.69 L272.40 321.52 L273.67 322.31 L274.96 323.07 L276.27 323.79 L277.61 324.47 L278.96 325.12 L280.33 325.72 L281.72 326.29 L283.12 326.82 L284.54 327.31 L285.97 327.76 L287.41 328.18 L288.86 328.56 L290.31 328.91 L291.78 329.22 L293.25 329.50 L294.73 329.75 L296.21 329.97 L297.70 330.16 L299.19 330.32 L300.68 330.46 L302.17 330.57 L303.67 330.66 L305.17 330.73 L306.67 330.78 L308.16 330.81 L309.66 330.82 L311.16 330.81 L312.66 330.79 L314.16 330.75 L315.66 330.70 L317.15 330.64 L318.65 330.56 L320.15 330.48 L321.64 330.38 L323.14 330.27 L324.63 330.16 L326.12 330.03 L327.62 329.90 L329.11 329.76 L330.60 329.62 L332.09 329.47 L333.58 329.31 L335.07 329.15 L336.56 328.99 L338.05 328.82 L339.54 328.65 L341.03 328.47 L342.52 328.29 L344.00 328.11 L345.49 327.93 L346.98 327.75 L348.47 327.56 L349.95 327.37 L351.44 327.18 L352.93 326.99 L354.41 326.80 L355.90 326.61 L357.39 326.42 L358.87 326.23 L360.36 326.04 L361.85 325.85 L363.33 325.66 L364.82 325.48 L366.31 325.29 L367.79 325.10 L369.28 324.91 L370.77 324.73 L372.25 324.55 L373.74 324.36 L375.23 324.18 L376.72 324.00 L378.21 323.82 L379.69 323.65 L381.18 323.47 L382.67 323.30 L384.16 323.13 L385.65 322.96 L387.14 322.79 L388.63 322.62 L390.12 322.46 L391.61 322.29 L393.10 322.13 L394.59 321.97 L396.08 321.82 L397.57 321.66 L399.06 321.51 L400.55 321.36 L402.04 321.21 L403.53 321.06 L405.02 320.92 L406.52 320.77 L408.01 320.63 L409.50 320.49 L410.99 320.36 L412.48 320.22 L413.98 320.09 L415.47 319.96 L416.96 319.83 L418.46 319.70 L419.95 319.58 L421.44 319.46 L422.94 319.34 L424.43 319.22 L425.93 319.10 L427.42 318.99 L428.91 318.87 L430.41 318.76 L431.90 318.65 L433.40 318.54 L434.89 318.44 L436.39 318.33 L437.88 318.23 L439.38 318.13 L440.87 318.03 L442.37 317.94 L443.87 317.84 L445.36 317.75 L446.86 317.66 L448.35 317.57 L449.85 317.48 L451.35 317.39 L452.84 317.31 L454.34 317.22 L455.83 317.14 L457.33 317.06 L458.83 316.98 L460.32 316.91 L461.82 316.83 L463.32 316.76 L464.81 316.68 L466.31 316.61 L467.81 316.54 L469.31 316.47 L470.80 316.40 L472.30 316.34 L473.80 316.27 L475.29 316.21 L476.79 316.15 L478.29 316.09 L479.79 316.03 L481.28 315.97 L482.78 315.91 L484.28 315.86 L485.78 315.80 L487.28 315.75 L488.77 315.70 L490.27 315.64 L491.77 315.59 L493.27 315.55 L494.76 315.50 L496.26 315.45 L497.76 315.40 L499.26 315.36 L500.76 315.32 L502.25 315.27 L503.75 315.23 L505.25 315.19 L506.75 315.15 L508.25 315.11 L509.75 315.07 L511.24 315.04 L512.74 315.00 L514.24 314.96 L515.74 314.93 L517.24 314.90 L518.73 314.86 L520.23 314.83 L521.73 314.80 L523.23 314.77 L524.73 314.74 L526.23 314.71 L527.72 314.68 L529.22 314.65 L530.72 314.63 L532.22 314.60 L533.72 314.58 L535.22 314.55 L536.72 314.53 L538.21 314.50 L539.71 314.48 L541.21 314.46 L542.71 314.44 L544.21 314.42 L545.71 314.40 L547.21 314.38 L548.70 314.36 L550.20 314.34 L551.70 314.32 L553.20 314.31 L554.70 314.29 L556.20 314.28 L557.70 314.26 L559.19 314.25 L560.69 314.23 L562.19 314.22 L563.69 314.21 L565.19 314.19 L566.69 314.18 L568.19 314.17 L569.68 314.16 L571.18 314.15 L572.68 314.14 L574.18 314.13 L575.68 314.12 L577.18 314.11 L578.68 314.10 L580.17 314.09 L581.67 314.09 L583.17 314.08 L584.67 314.07 L586.17 314.07 L587.67 314.06 L589.17 314.06 L590.67 314.05 L592.16 314.05 L593.66 314.04 L595.16 314.04 L596.66 314.04 L598.16 314.03 L599.66 314.03 L601.16 314.03 L602.65 314.03 L604.15 314.03 L605.65 314.03 L607.15 314.02 L608.65 314.02 L610.15 314.02 L611.65 314.02 L613.15 314.03 L614.64 314.03 L616.14 314.03 L617.64 314.03 L619.14 314.03 L620.64 314.03 L622.14 314.04 L623.64 314.04 L625.13 314.04 L626.63 314.05 L628.13 314.05 L629.63 314.05 L631.13 314.06 L632.63 314.06 L634.13 314.07 L635.63 314.07 L637.12 314.08 L638.62 314.08 L640.12 314.09 L641.62 314.10 L643.12 314.10 L644.62 314.11 L646.12 314.12 L647.61 314.12 L649.11 314.13 L650.61 314.14 L652.11 314.15 L653.61 314.15 L655.11 314.16 L656.61 314.17 L658.10 314.18 L659.60 314.19 L661.10 314.20 L662.60 314.21 L664.10 314.22 L665.60 314.23 L667.10 314.24 L668.60 314.25 L670.09 314.26 L671.59 314.27 L673.09 314.28 L674.59 314.29 L676.09 314.30 L677.59 314.31 L679.09 314.33 L680.58 314.34 L682.08 314.35 L683.58 314.36 L685.08 314.38 L686.58 314.39 L688.08 314.40 L689.58 314.41 L691.07 314.43 L692.57 314.44 L694.07 314.45 L695.57 314.47 L697.07 314.48 L698.57 314.50 L700.07 314.51 L701.56 314.53 L703.06 314.54 L704.56 314.55 L706.06 314.57 L707.56 314.58 L709.06 314.60 L710.56 314.62 L712.05 314.63 L713.55 314.65 L715.05 314.66 L716.55 314.68 L718.05 314.70 L719.55 314.71 L721.05 314.73 L722.55 314.75 L724.04 314.76 L725.54 314.78 L727.04 314.80 L728.54 314.81 L730.04 314.83 L731.54 314.85 L733.03 314.87 L734.53 314.88 L736.03 314.90 L737.53 314.92 L739.03 314.94 L740.53 314.96 L742.03 314.98 L743.52 314.99 L745.02 315.01 L746.52 315.03 L748.02 315.05 L749.52 315.07 L751.02 315.09 L752.52 315.11 L754.01 315.13 L755.51 315.15 L757.01 315.17 L758.51 315.19 L760.01 315.21 L761.51 315.23 L763.01 315.25 L764.50 315.27 L766.00 315.29 L767.50 315.31 L769.00 315.33" stroke="#EB6235"/>
</g>
<g fill="none" stroke="#000" stroke-width="1.3">
<path d="M28.4 346.5H783.7" />
<path d="M43 112V580.5" />
<path d="M43.00 346.5v-9.2M79.30 346.5v-5.5M115.60 346.5v-5.5M151.90 346.5v-5.5M188.20 346.5v-5.5M224.50 346.5v-9.2M260.80 346.5v-5.5M297.10 346.5v-5.5M333.40 346.5v-5.5M369.70 346.5v-5.5M406.00 346.5v-9.2M442.30 346.5v-5.5M478.60 346.5v-5.5M514.90 346.5v-5.5M551.20 346.5v-5.5M587.50 346.5v-9.2M623.80 346.5v-5.5M660.10 346.5v-5.5M696.40 346.5v-5.5M732.70 346.5v-5.5M769.00 346.5v-9.2M43 580.01h8.9M43 550.79h5.3M43 521.57h5.3M43 492.35h5.3M43 463.13h8.9M43 433.91h5.3M43 404.69h5.3M43 375.47h5.3M43 346.25h8.9M43 317.03h5.3M43 287.81h5.3M43 258.59h5.3M43 229.37h8.9M43 200.15h5.3M43 170.93h5.3M43 141.71h5.3M43 112.49h8.9"/>
</g>
<g fill="none">
<path d="M85.9 644H131.0" stroke="#5E81B5" stroke-width="3.6"/>
<path d="M252.9 644H298.0" stroke="#E19C24" stroke-width="3.6"/>
<path d="M419.9 644H465.0" stroke="#8FB032" stroke-width="3.6"/>
<path d="M586.9 644H632.0" stroke="#EB6235" stroke-width="3.6"/>
</g>
<g fill="#000" style="filter:grayscale(1)">
<text x="36.2" y="123.4" text-anchor="end" font-size="32.5">4</text>
<text x="36.2" y="240.3" text-anchor="end" font-size="32.5">2</text>
<text x="36.2" y="474.0" text-anchor="end" font-size="32.5">2</text>
<rect x="1.5" y="464.83" width="14.9" height="2"/>
<text x="36.2" y="590.9" text-anchor="end" font-size="32.5">4</text>
<rect x="1.5" y="581.71" width="14.9" height="2"/>
<text x="224.2" y="384.3" text-anchor="middle" font-size="32.5">1</text>
<text x="405.7" y="384.3" text-anchor="middle" font-size="32.5">2</text>
<text x="587.2" y="384.3" text-anchor="middle" font-size="32.5">3</text>
<text x="768.7" y="384.3" text-anchor="middle" font-size="32.5">4</text>
<text x="802.6" y="357.4" font-style="italic" font-size="31.5">r</text>
<text x="20.2" y="88.6" font-style="italic" font-size="31">V</text>
<text x="40.2" y="94.3" font-size="22.8">eff</text>
<text transform="translate(146.5 652.5) scale(0.955 1)" font-size="30.4">Q</text>
<path d="M170.8 641.55h14.2v2.1h-14.2zM170.8 647.1h14.2v2.1h-14.2z"/>
<text transform="translate(186.6 652.5) scale(0.955 1)" font-size="30.4">0.4</text>
<text transform="translate(313.5 652.5) scale(0.955 1)" font-size="30.4">Q</text>
<path d="M337.8 641.55h14.2v2.1h-14.2zM337.8 647.1h14.2v2.1h-14.2z"/>
<text transform="translate(353.6 652.5) scale(0.955 1)" font-size="30.4">0.5</text>
<text transform="translate(480.5 652.5) scale(0.955 1)" font-size="30.4">Q</text>
<path d="M504.8 641.55h14.2v2.1h-14.2zM504.8 647.1h14.2v2.1h-14.2z"/>
<text transform="translate(520.6 652.5) scale(0.955 1)" font-size="30.4">0.6</text>
<text transform="translate(647.5 652.5) scale(0.955 1)" font-size="30.4">Q</text>
<path d="M671.8 641.55h14.2v2.1h-14.2zM671.8 647.1h14.2v2.1h-14.2z"/>
<text transform="translate(687.6 652.5) scale(0.955 1)" font-size="30.4">0.7</text>
<g font-family="Liberation Serif, serif" font-size="31.0" stroke="#000" stroke-width="0.25">
<text transform="translate(341.7 46.1) skewX(-9) scale(0.97 1)" font-style="italic">ξ</text>
<path d="M359.5 33.65h16.3v1.7h-16.3zM359.5 39.85h16.3v1.7h-16.3zM433.3 33.65h16.2v1.7h-16.2zM433.3 39.85h16.2v1.7h-16.2z" stroke="none"/>
<text transform="translate(380.4 45.5) scale(0.76 1)">1</text>
<text transform="translate(394.2 45.5) scale(0.92 1)">,</text>
<text transform="translate(403.2 45.5) scale(0.97 1)" font-style="italic">L</text>
<text transform="translate(419.6 35.9) scale(0.95 1)" font-size="22.3">2</text>
<text transform="translate(452.6 45.5) scale(0.92 1)">4</text>
</g>
</g>
</svg>
</body></html>
